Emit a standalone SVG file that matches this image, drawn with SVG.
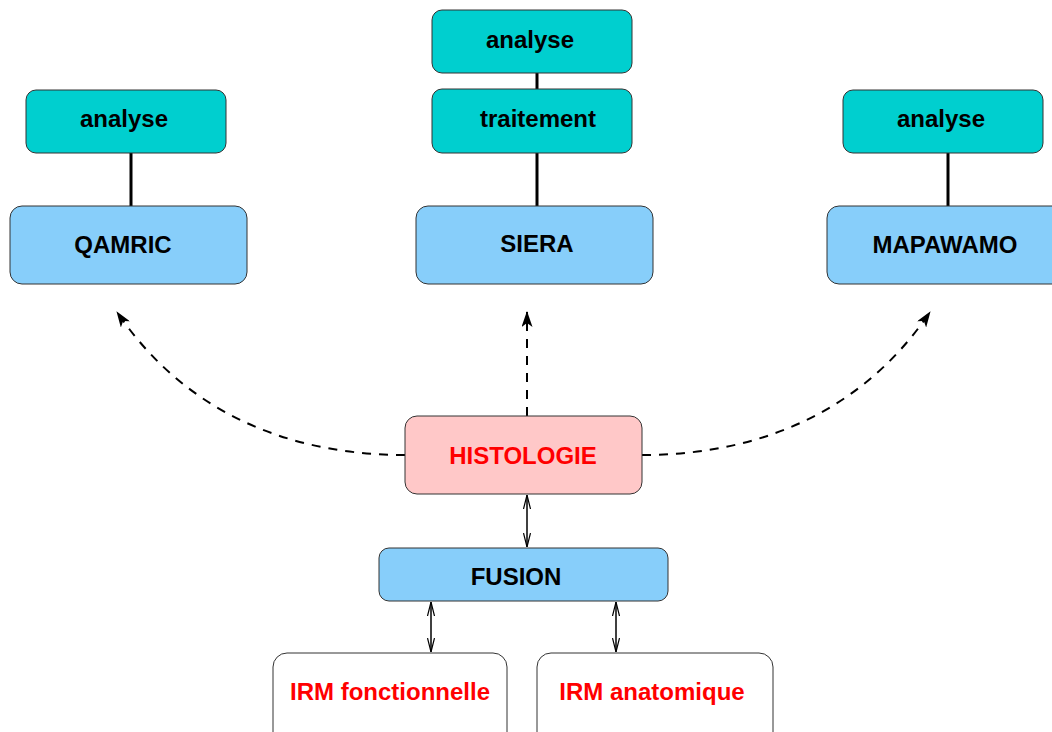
<svg xmlns="http://www.w3.org/2000/svg" width="1052" height="732" viewBox="0 0 1052 732">
<style>
.box{stroke:#333;stroke-width:1}
.teal{fill:#00cfcf}
.blue{fill:#87cefa}
.pink{fill:#ffc8c8}
.white{fill:#ffffff}
.t{font-family:"Liberation Sans",Arial,sans-serif;font-weight:bold;font-size:24px;text-anchor:middle;fill:#000}
.red{fill:#ff0000}
.solid{stroke:#000;stroke-width:3;fill:none}
.dash{stroke:#000;stroke-width:2;fill:none;stroke-dasharray:9 8}
.dbl{stroke:#000;stroke-width:1.5;fill:none}
</style>
<defs>
<marker id="dart" viewBox="0 0 16 11" refX="15" refY="5.5" markerWidth="16" markerHeight="11" markerUnits="userSpaceOnUse" orient="auto">
<path d="M0,0 L16,5.5 L0,11 L4,5.5 z" fill="#000"/>
</marker>
<marker id="openEnd" viewBox="0 0 14 8" refX="14" refY="4" markerWidth="14" markerHeight="8" markerUnits="userSpaceOnUse" orient="auto">
<path d="M0,0.5 L14,4 L0,7.5" fill="none" stroke="#000" stroke-width="1.2"/>
</marker>
<marker id="openStart" viewBox="0 0 14 8" refX="0" refY="4" markerWidth="14" markerHeight="8" markerUnits="userSpaceOnUse" orient="auto">
<path d="M14,0.5 L0,4 L14,7.5" fill="none" stroke="#000" stroke-width="1.2"/>
</marker>
</defs>

<g id="connectors">
<line class="solid" x1="131" y1="153" x2="131" y2="206"/>
<line class="solid" x1="537" y1="73" x2="537" y2="89"/>
<line class="solid" x1="537" y1="153" x2="537" y2="206"/>
<line class="solid" x1="948" y1="153" x2="948" y2="206"/>
<path class="dash" d="M405,455 C300,455 190,420 117,312" marker-end="url(#dart)"/>
<path class="dash" d="M527,416 L527,312" marker-end="url(#dart)"/>
<path class="dash" d="M642,455 C747,455 857,420 930,312" marker-end="url(#dart)"/>
<line class="dbl" x1="527" y1="495" x2="527" y2="547" marker-start="url(#openStart)" marker-end="url(#openEnd)"/>
<line class="dbl" x1="431" y1="602" x2="431" y2="652" marker-start="url(#openStart)" marker-end="url(#openEnd)"/>
<line class="dbl" x1="616" y1="602" x2="616" y2="652" marker-start="url(#openStart)" marker-end="url(#openEnd)"/>
</g>

<g id="analyse-left">
<rect class="box teal" x="26" y="90" width="200" height="63" rx="10"/>
<text class="t" x="124" y="127">analyse</text>
</g>
<g id="qamric">
<rect class="box blue" x="10" y="206" width="237" height="78" rx="12"/>
<text class="t" x="123" y="253">QAMRIC</text>
</g>

<g id="analyse-center">
<rect class="box teal" x="432" y="10" width="200" height="63" rx="10"/>
<text class="t" x="530" y="48">analyse</text>
</g>
<g id="traitement">
<rect class="box teal" x="432" y="89" width="200" height="64" rx="10"/>
<text class="t" x="538" y="127">traitement</text>
</g>
<g id="siera">
<rect class="box blue" x="416" y="206" width="237" height="78" rx="12"/>
<text class="t" x="537" y="252">SIERA</text>
</g>

<g id="analyse-right">
<rect class="box teal" x="843" y="90" width="200" height="63" rx="10"/>
<text class="t" x="941" y="127">analyse</text>
</g>
<g id="mapawamo">
<rect class="box blue" x="827" y="206" width="237" height="78" rx="12"/>
<text class="t" x="945" y="253">MAPAWAMO</text>
</g>

<g id="histologie">
<rect class="box pink" x="405" y="416" width="237" height="78" rx="12"/>
<text class="t red" x="523" y="464">HISTOLOGIE</text>
</g>

<g id="fusion">
<rect class="box blue" x="379" y="548" width="289" height="53" rx="10"/>
<text class="t" x="516" y="585">FUSION</text>
</g>

<g id="irm-fonctionnelle">
<rect class="box white" x="273" y="653" width="234" height="95" rx="14"/>
<text class="t red" x="390" y="700">IRM fonctionnelle</text>
</g>
<g id="irm-anatomique">
<rect class="box white" x="537" y="653" width="236" height="95" rx="14"/>
<text class="t red" x="652" y="700">IRM anatomique</text>
</g>
</svg>
